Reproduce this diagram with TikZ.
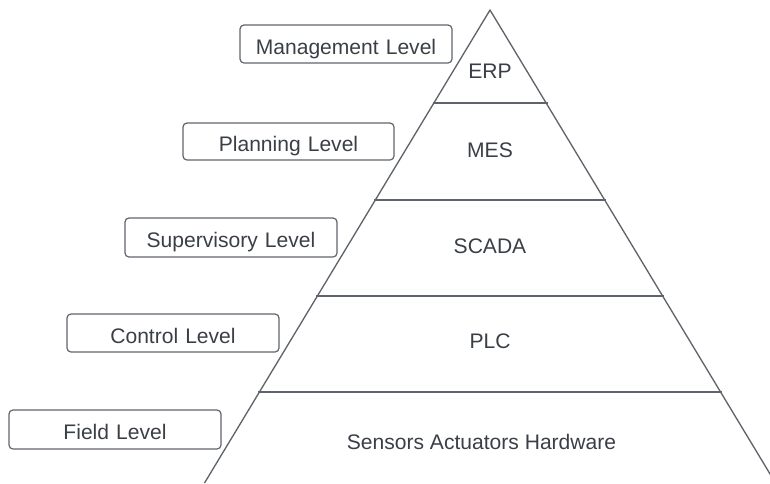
\documentclass[tikz,border=0pt]{standalone}
\usepackage{fontspec}
\setmainfont{Liberation Sans}
\definecolor{linec}{HTML}{5F646B}
\definecolor{textc}{HTML}{3A3F47}
\begin{document}
\begin{tikzpicture}[x=0.75pt,y=-0.75pt,
  lvl/.style={draw=linec,line width=0.9pt,rounded corners=3pt,text=textc,font=\fontsize{15.8pt}{18pt}\selectfont,inner sep=0pt,align=center,text height=15pt,text depth=0pt},
  lay/.style={text=textc,font=\fontsize{15.8pt}{18pt}\selectfont},
  edge/.style={draw=linec,line width=1pt}]
\useasboundingbox (0,0) rectangle (770,483);
\clip (0,0) rectangle (770,483);
% pyramid geometry
\coordinate (apex) at (490,10);
\coordinate (bl) at (204.5,483);
\coordinate (br) at (775.5,483);
\coordinate (l1) at (432.5,103);  \coordinate (r1) at (547.5,103);
\coordinate (l2) at (374,200);    \coordinate (r2) at (606,200);
\coordinate (l3) at (316,296);    \coordinate (r3) at (664,296);
\coordinate (l4) at (258,392);    \coordinate (r4) at (722,392);
\draw[edge,line join=round] (bl) -- (apex) -- (br);
\draw[edge] (l1) -- (r1);
\draw[edge] (l2) -- (r2);
\draw[edge] (l3) -- (r3);
\draw[edge] (l4) -- (r4);
% layer texts
\node[lay] (erp) at (490,71.5) {ERP};
\node[lay] (mes) at (490,150) {MES};
\node[lay] (scada) at (490,246.5) {SCADA};
\node[lay] (plc) at (490,341) {PLC};
\node[lay] (hw) at (481.5,442) {Sensors Actuators Hardware};
% level boxes
\node[lvl,text width=212*0.75pt,minimum height=38*0.75pt] (mgmt) at (346,44) {Management Level};
\node[lvl,text width=211*0.75pt,minimum height=37*0.75pt] (plan) at (288.5,141.5) {Planning Level};
\node[lvl,text width=212*0.75pt,minimum height=39*0.75pt] (sup) at (231,237.5) {Supervisory Level};
\node[lvl,text width=212*0.75pt,minimum height=38*0.75pt] (ctrl) at (173,333) {Control Level};
\node[lvl,text width=212*0.75pt,minimum height=39*0.75pt] (field) at (115,429.5) {Field Level};
\end{tikzpicture}
\end{document}
